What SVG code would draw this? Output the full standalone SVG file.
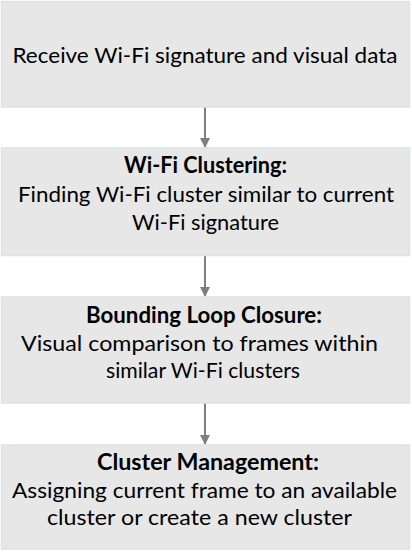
<svg xmlns="http://www.w3.org/2000/svg" width="412" height="552" viewBox="0 0 412 552">
<style>
.box{fill:#e7e7e7;stroke:#dce2ea;stroke-width:1.5}
text{font-family:Lato,"Open Sans","Liberation Sans",sans-serif;font-size:22px;fill:#000;text-anchor:middle}
.b{font-weight:bold}
.conn{stroke:#7f7f7f;stroke-width:2;fill:none}
</style>
<defs>
<marker id="ah" markerWidth="10" markerHeight="10" refX="9" refY="5" orient="auto" markerUnits="userSpaceOnUse">
<path d="M0,0 L10,5 L0,10 z" fill="#7f7f7f"/>
</marker>
</defs>
<g id="connectors">
<line class="conn" x1="205" y1="107" x2="205" y2="147" marker-end="url(#ah)"/>
<line class="conn" x1="205" y1="256" x2="205" y2="296" marker-end="url(#ah)"/>
<line class="conn" x1="205" y1="403" x2="205" y2="444" marker-end="url(#ah)"/>
</g>
<g id="node1">
<rect class="box" x="1.5" y="1.5" width="408" height="105.5"/>
<text x="205" y="63" textLength="385" lengthAdjust="spacingAndGlyphs">Receive Wi-Fi signature and visual data</text>
</g>
<g id="node2">
<rect class="box" x="1.5" y="148" width="408" height="107.5"/>
<text class="b" x="205.5" y="173" textLength="163" lengthAdjust="spacingAndGlyphs">Wi-Fi Clustering:</text>
<text x="206" y="202" textLength="376" lengthAdjust="spacingAndGlyphs">Finding Wi-Fi cluster similar to current</text>
<text x="205.5" y="230" textLength="147" lengthAdjust="spacingAndGlyphs">Wi-Fi signature</text>
</g>
<g id="node3">
<rect class="box" x="1.5" y="297" width="408" height="106"/>
<text class="b" x="204" y="323" textLength="236" lengthAdjust="spacingAndGlyphs">Bounding Loop Closure:</text>
<text x="199.5" y="351" textLength="357" lengthAdjust="spacingAndGlyphs">Visual comparison to frames within</text>
<text x="203" y="378" textLength="194" lengthAdjust="spacingAndGlyphs">similar Wi-Fi clusters</text>
</g>
<g id="node4">
<rect class="box" x="1.5" y="445" width="408" height="104"/>
<text class="b" x="208" y="470" textLength="222" lengthAdjust="spacingAndGlyphs">Cluster Management:</text>
<text x="204.5" y="498" textLength="385" lengthAdjust="spacingAndGlyphs">Assigning current frame to an available</text>
<text x="199.5" y="525" textLength="305" lengthAdjust="spacingAndGlyphs">cluster or create a new cluster</text>
</g>
</svg>
